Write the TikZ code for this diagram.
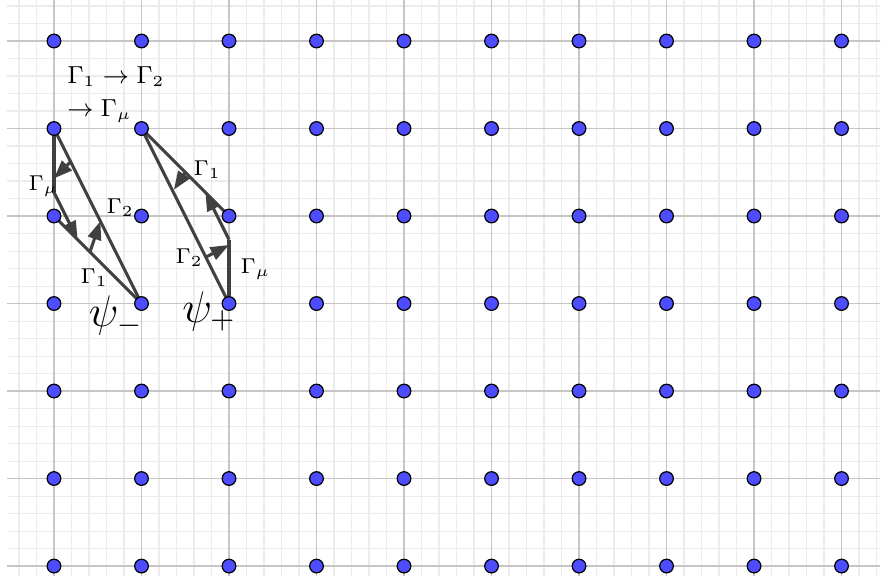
\documentclass[tikz,border=0pt]{standalone}
\usetikzlibrary{arrows.meta}
\definecolor{dotblue}{RGB}{77,77,255}
\definecolor{lineg}{RGB}{64,64,64}
\definecolor{majorg}{RGB}{198,198,198}
\definecolor{minorg}{RGB}{236,236,236}
\begin{document}
\begin{tikzpicture}[x=1cm,y=1cm,
  dot/.style={circle,fill=dotblue,draw=black,line width=0.4pt,inner sep=0pt,minimum size=0.156cm},
  seg/.style={draw=lineg,line width=1pt},
  vec/.style={seg,-{Triangle[length=6pt,width=4.4pt]}},
  toplab/.style={font=\fontsize{7.6}{9}\selectfont,inner sep=0pt,anchor=base west},
  lab/.style={font=\fontsize{6.9}{8}\selectfont,inner sep=0pt,anchor=base west},
  biglab/.style={font=\fontsize{14.5}{16}\selectfont,inner sep=0pt,anchor=base west}]
\useasboundingbox (-0.617,-0.103) rectangle (9.554,6.469);
\fill[white] (-0.617,-0.103) rectangle (9.554,6.469);
\begin{scope}
  \clip (-0.537,-0.103) rectangle (9.44,6.469);
  \draw[minorg,line width=0.35pt,step=0.2] (-0.6,-0.2) grid (9.6,6.6);
  \draw[majorg,line width=0.4pt,step=1] (-0.6,-0.2) grid (9.6,6.6);
\end{scope}
% key points
\coordinate (A) at (0,5);
\coordinate (B) at (1,3);
\coordinate (L4) at (0,4);
\coordinate (P) at (0,4.27);
\coordinate (Q) at (0.27,3.73);
\coordinate (LaT) at (0.19,4.62);
\coordinate (LaH) at (0,4.43);
\coordinate (LbT) at (0.411,3.589);
\coordinate (LbH) at (0.53,3.94);
\coordinate (C) at (1,5);
\coordinate (D) at (2,3);
\coordinate (E) at (2,4);
\coordinate (F) at (2,3.73);
\coordinate (RaH) at (1.73,4.27);
\coordinate (RbT) at (1.737,3.531);
\coordinate (RbH) at (2,3.669);
\coordinate (RcT) at (1.503,4.5);
\coordinate (RcH) at (1.37,4.3);
% left figure
\draw[seg] (A) -- (P);
\draw[seg] (A) -- (B);
\draw[seg] (L4) -- (B);
\draw[vec] (P) -- (Q);
\draw[vec] (LaT) -- (LaH);
\draw[vec] (LbT) -- (LbH);
% right figure
\draw[seg] (D) -- (F);
\draw[seg] (C) -- (D);
\draw[seg] (C) -- (E);
\draw[vec] (F) -- (RaH);
\draw[vec] (RbT) -- (RbH);
\draw[vec] (RcT) -- (RcH);
% dots
\foreach \i in {0,...,9}
  \foreach \j in {0,...,6}
    \node[dot] (d\i-\j) at (\i,\j) {};
% labels
\node[toplab] (t1) at (0.145,5.517) {$\Gamma_1 \rightarrow \Gamma_2$};
\node[toplab] (t2) at (0.145,5.139) {$\rightarrow \Gamma_\mu$};
\node[lab] (lmu) at (-0.297,4.297) {$\Gamma_\mu$};
\node[lab] (l2) at (0.594,4.03) {$\Gamma_2$};
\node[lab] (l1) at (0.297,3.23) {$\Gamma_1$};
\node[lab] (r1) at (1.589,4.46) {$\Gamma_1$};
\node[lab] (r2) at (1.383,3.46) {$\Gamma_2$};
\node[lab] (rmu) at (2.126,3.349) {$\Gamma_\mu$};
\node[biglab] (psim) at (0.392,2.739) {$\psi_-$};
\node[biglab] (psip) at (1.459,2.785) {$\psi_+$};
\end{tikzpicture}
\end{document}
